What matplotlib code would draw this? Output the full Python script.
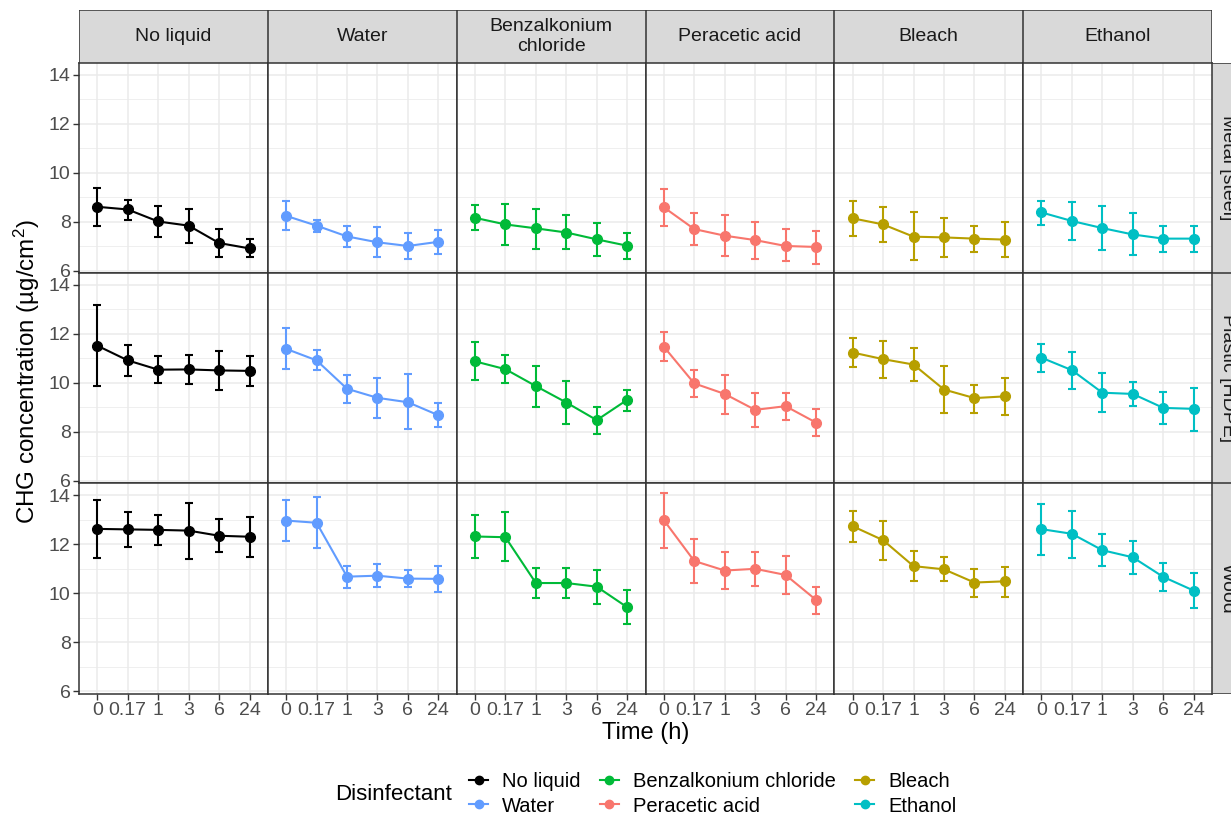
import numpy as np
import matplotlib.pyplot as plt
from matplotlib.patches import Rectangle
from matplotlib.lines import Line2D

plt.rcParams['font.family'] = ['Liberation Sans', 'DejaVu Sans']
plt.rcParams['mathtext.fontset'] = 'custom'
plt.rcParams['mathtext.rm'] = 'Liberation Sans'
plt.rcParams['mathtext.it'] = 'Liberation Sans'

times = ['0', '0.17', '1', '3', '6', '24']
disinfectants = ['No liquid', 'Water', 'Benzalkonium chloride',
                 'Peracetic acid', 'Bleach', 'Ethanol']
strip_names = ['No liquid', 'Water', 'Benzalkonium\nchloride',
               'Peracetic acid', 'Bleach', 'Ethanol']
surfaces = ['Metal [steel]', 'Plastic [HDPE]', 'Wood']
colors = ['#000000', '#619CFF', '#00BA38', '#F8766D', '#B79F00', '#00BFC4']

# one row per disinfectant, one value per time point
metal_mean = [[8.61, 8.50, 8.01, 7.84, 7.13, 6.91],
              [8.24, 7.84, 7.40, 7.16, 7.01, 7.18],
              [8.16, 7.89, 7.73, 7.56, 7.28, 7.02],
              [8.59, 7.70, 7.43, 7.25, 7.01, 6.97],
              [8.14, 7.89, 7.39, 7.36, 7.31, 7.27],
              [8.38, 8.03, 7.74, 7.48, 7.31, 7.31]]
metal_hi = [[9.39, 8.89, 8.65, 8.52, 7.70, 7.28],
            [8.86, 8.07, 7.82, 7.80, 7.54, 7.67],
            [8.67, 8.73, 8.54, 8.26, 7.95, 7.56],
            [9.32, 8.34, 8.26, 8.00, 7.69, 7.64],
            [8.84, 8.61, 8.38, 8.14, 7.84, 7.97],
            [8.86, 8.79, 8.63, 8.34, 7.84, 7.84]]
metal_lo = [[7.82, 8.08, 7.39, 7.13, 6.57, 6.54],
            [7.67, 7.59, 6.97, 6.54, 6.46, 6.69],
            [7.67, 7.06, 6.90, 6.87, 6.61, 6.48],
            [7.84, 7.05, 6.60, 6.49, 6.38, 6.29],
            [7.43, 7.18, 6.42, 6.58, 6.76, 6.54],
            [7.85, 7.25, 6.86, 6.64, 6.78, 6.76]]

plastic_mean = [[11.52, 10.92, 10.54, 10.55, 10.51, 10.49],
                [11.39, 10.92, 9.76, 9.39, 9.21, 8.68],
                [10.88, 10.56, 9.87, 9.20, 8.48, 9.31],
                [11.48, 9.98, 9.55, 8.90, 9.05, 8.38],
                [11.24, 10.97, 10.75, 9.73, 9.38, 9.45],
                [11.03, 10.52, 9.60, 9.55, 8.98, 8.94]]
plastic_hi = [[13.17, 11.53, 11.10, 11.12, 11.31, 11.08],
              [12.25, 11.33, 10.32, 10.22, 10.36, 9.17],
              [11.65, 11.15, 10.70, 10.07, 9.03, 9.73],
              [12.08, 10.51, 10.34, 9.59, 9.59, 8.93],
              [11.82, 11.73, 11.44, 10.69, 9.92, 10.21],
              [11.59, 11.26, 10.39, 10.05, 9.62, 9.81]]
plastic_lo = [[9.89, 10.29, 9.98, 9.95, 9.70, 9.89],
              [10.55, 10.51, 9.16, 8.58, 8.11, 8.20],
              [10.11, 9.98, 9.03, 8.34, 7.92, 8.87],
              [10.88, 9.44, 8.75, 8.22, 8.50, 7.84],
              [10.65, 10.20, 10.09, 8.76, 8.79, 8.70],
              [10.45, 9.77, 8.81, 9.05, 8.34, 8.05]]

wood_mean = [[12.62, 12.60, 12.58, 12.55, 12.34, 12.30],
             [12.96, 12.87, 10.67, 10.71, 10.59, 10.58],
             [12.31, 12.28, 10.41, 10.41, 10.26, 9.42],
             [12.98, 11.31, 10.92, 10.99, 10.74, 9.72],
             [12.73, 12.16, 11.10, 10.97, 10.43, 10.48],
             [12.61, 12.42, 11.75, 11.46, 10.66, 10.10]]
wood_hi = [[13.81, 13.32, 13.19, 13.67, 13.02, 13.11],
           [13.78, 13.94, 11.11, 11.20, 10.96, 11.11],
           [13.19, 13.29, 11.04, 11.04, 10.95, 10.13],
           [14.09, 12.21, 11.66, 11.67, 11.53, 10.26],
           [13.37, 12.96, 11.71, 11.46, 10.99, 11.08],
           [13.63, 13.37, 12.41, 12.14, 11.23, 10.82]]
wood_lo = [[11.44, 11.87, 11.98, 11.41, 11.68, 11.49],
           [12.14, 11.82, 10.22, 10.24, 10.25, 10.06],
           [11.42, 11.29, 9.79, 9.79, 9.54, 8.74],
           [11.86, 10.41, 10.17, 10.29, 9.96, 9.13],
           [12.08, 11.34, 10.50, 10.48, 9.85, 9.85],
           [11.57, 11.45, 11.10, 10.78, 10.08, 9.38]]

means = [metal_mean, plastic_mean, wood_mean]
his = [metal_hi, plastic_hi, wood_hi]
los = [metal_lo, plastic_lo, wood_lo]

W, H = 1231, 817
fig = plt.figure(figsize=(W / 100, H / 100), dpi=100)

def fx(px):
    return px / W

def fy(py):
    return 1 - py / H

left, right = 79, 1212
top, bottom = 63, 693.5
pw = (right - left) / 6
ph = (bottom - top) / 3

allv = np.concatenate([np.ravel(los), np.ravel(his)])
span = allv.max() - allv.min()
ylim = (allv.min() - 0.05 * span, allv.max() + 0.05 * span)
x = np.arange(len(times))

grid_col = '#EBEBEB'
border = '#333333'

for r in range(3):
    for c in range(6):
        x0 = left + c * pw
        y0 = top + r * ph
        ax = fig.add_axes([fx(x0), fy(y0 + ph), pw / W, ph / H])
        ax.set_xlim(-0.6, 5.6)
        ax.set_ylim(*ylim)
        ax.set_yticks([6, 8, 10, 12, 14])
        ax.set_yticks([7, 9, 11, 13], minor=True)
        ax.set_xticks(x)
        ax.grid(True, which='major', color=grid_col, lw=1.1)
        ax.grid(True, which='minor', axis='y', color=grid_col, lw=0.55)
        ax.set_axisbelow(True)
        for s in ax.spines.values():
            s.set_color(border)
            s.set_linewidth(1.1)
        ax.tick_params(which='minor', length=0)
        ax.tick_params(which='major', color=border, length=4, width=1.0,
                       labelsize=14, labelcolor='#4D4D4D', pad=2)
        if c == 0:
            ax.set_yticklabels([str(v) for v in [6, 8, 10, 12, 14]])
        else:
            ax.tick_params(axis='y', length=0, labelleft=False)
        if r == 2:
            ax.set_xticklabels(times)
        else:
            ax.tick_params(axis='x', length=0, labelbottom=False)

        m = means[r][c]
        ax.errorbar(x, m, yerr=[np.array(m) - np.array(los[r][c]),
                                np.array(his[r][c]) - np.array(m)],
                    color=colors[c], lw=1.5, elinewidth=1.5, capsize=3.2,
                    capthick=1.5, marker='o', ms=7, zorder=3)

        if r == 0:
            sax = fig.add_axes([fx(x0), fy(top), pw / W, (top - 10) / H])
            sax.add_patch(Rectangle((0, 0), 1, 1, facecolor='#D9D9D9',
                                    edgecolor=border, lw=1.1,
                                    transform=sax.transAxes))
            sax.set_axis_off()
            sax.text(0.5, 0.5, strip_names[c], ha='center', va='center',
                     fontsize=14, color='#1A1A1A', linespacing=1.25,
                     transform=sax.transAxes)

    sax = fig.add_axes([fx(right), fy(top + (r + 1) * ph), 33 / W, ph / H])
    sax.add_patch(Rectangle((0, 0), 1, 1, facecolor='#D9D9D9',
                            edgecolor=border, lw=1.1, transform=sax.transAxes))
    sax.set_axis_off()
    sax.text(0.47, 0.5, surfaces[r], ha='center', va='center', rotation=-90,
             fontsize=14, color='#1A1A1A', transform=sax.transAxes)

fig.text(fx((left + right) / 2), fy(733), 'Time (h)', ha='center',
         va='center', fontsize=17)
fig.text(fx(27), fy(372), 'CHG concentration (µg/cm$^2$)',
         ha='center', va='center', rotation=90, fontsize=17.4)

handles = [Line2D([], [], color=col, marker='o', ms=6, lw=1.5)
           for col in colors]
fig.text(fx(335), fy(795), 'Disinfectant', ha='left', va='center',
         fontsize=16)
fig.legend(handles, disinfectants, ncol=3, loc='center left',
           bbox_to_anchor=(fx(469), fy(794)), frameon=False, fontsize=14.5,
           handlelength=0.95, handletextpad=0.7, columnspacing=0.95,
           labelspacing=0.25, borderpad=0, borderaxespad=0)

fig.savefig('out.png', dpi=100)
